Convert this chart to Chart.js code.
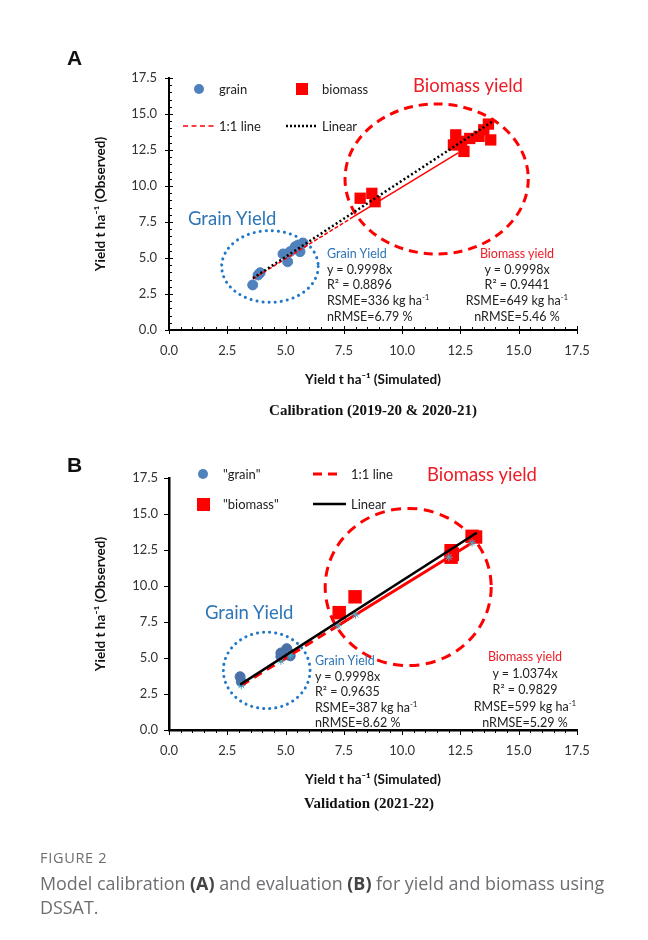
<!DOCTYPE html>
<html>
<head>
<meta charset="utf-8">
<script src="https://cdn.jsdelivr.net/npm/chart.js@4.4.0/dist/chart.umd.min.js"></script>
<style>
  html,body{margin:0;padding:0;background:#fff;}
  body{width:648px;height:940px;position:relative;overflow:hidden;font-family:Lato,"Open Sans",sans-serif;}
  canvas{position:absolute;left:0;}
  .t{position:absolute;white-space:nowrap;color:#222;}
  .stats{font-size:12.5px;line-height:15.7px;}
  .stats sup{font-size:8px;vertical-align:5px;line-height:0;}
  .big{font-size:18.5px;line-height:22px;}
  .leg{font-size:13px;line-height:16px;color:#222;}
  .panel{font-family:"Liberation Sans",Arial,sans-serif;font-weight:bold;font-size:21px;line-height:24px;color:#111;}
  .cap{font-family:"Liberation Serif","Times New Roman",serif;font-weight:bold;font-size:15px;line-height:18px;color:#111;text-align:center;width:400px;}
  .sw{position:absolute;}
</style>
</head>
<body>
<canvas id="cA" width="648" height="400" style="top:0"></canvas>
<canvas id="cB" width="648" height="400" style="top:400px"></canvas>

<!-- Panel A overlays -->
<div class="t panel" style="left:67px;top:46px">A</div>
<svg class="sw" style="left:0;top:0" width="648" height="400">
  <circle cx="199" cy="89" r="5" fill="#4f81bd"/>
  <rect x="296" y="83" width="12" height="12" fill="#ff0000"/>
  <line x1="183" y1="126" x2="215" y2="126" stroke="#ff0000" stroke-width="1.5" stroke-dasharray="5,3.5"/>
  <line x1="286" y1="126" x2="318" y2="126" stroke="#000" stroke-width="2.5" stroke-dasharray="2,2"/>
</svg>
<div class="t leg" style="left:219px;top:81px">grain</div>
<div class="t leg" style="left:322px;top:81px">biomass</div>
<div class="t leg" style="left:219px;top:118px">1:1 line</div>
<div class="t leg" style="left:322px;top:118px">Linear</div>
<div class="t big" style="left:413px;top:74px;color:#ee1c25">Biomass yield</div>
<div class="t big" style="left:188px;top:207px;color:#2e75b6">Grain Yield</div>
<div class="t stats" style="left:327px;top:246px">
  <span style="color:#2e75b6">Grain Yield</span><br>y = 0.9998x<br>R² = 0.8896<br>RSME=336 kg ha<sup>-1</sup><br>nRMSE=6.79 %
</div>
<div class="t stats" style="left:437px;top:246px;width:160px;text-align:center">
  <span style="color:#ee1c25">Biomass yield</span><br>y = 0.9998x<br>R² = 0.9441<br>RSME=649 kg ha<sup>-1</sup><br>nRMSE=5.46 %
</div>
<div class="t cap" style="left:173px;top:401px">Calibration (2019-20 &amp; 2020-21)</div>

<!-- Panel B overlays -->
<div class="t panel" style="left:67px;top:453px">B</div>
<svg class="sw" style="left:0;top:0" width="648" height="940">
  <circle cx="203" cy="474" r="5" fill="#4f81bd"/>
  <rect x="197" y="498" width="13" height="13" fill="#ff0000"/>
  <line x1="313" y1="474" x2="343" y2="474" stroke="#ff0000" stroke-width="3" stroke-dasharray="9,6"/>
  <line x1="313" y1="504" x2="346" y2="504" stroke="#000" stroke-width="2.5"/>
</svg>
<div class="t leg" style="left:223px;top:466px">"grain"</div>
<div class="t leg" style="left:223px;top:496px">"biomass"</div>
<div class="t leg" style="left:351px;top:466px">1:1 line</div>
<div class="t leg" style="left:351px;top:496px">Linear</div>
<div class="t big" style="left:427px;top:463px;color:#ee1c25">Biomass yield</div>
<div class="t big" style="left:205px;top:601px;color:#2e75b6">Grain Yield</div>
<div class="t stats" style="left:315px;top:653px;line-height:15.6px">
  <span style="color:#2e75b6">Grain Yield</span><br>y = 0.9998x<br>R² = 0.9635<br>RSME=387 kg ha<sup>-1</sup><br>nRMSE=8.62 %
</div>
<div class="t stats" style="left:445px;top:649px;width:160px;text-align:center;line-height:16.5px">
  <span style="color:#ee1c25">Biomass yield</span><br>y = 1.0374x<br>R² = 0.9829<br>RMSE=599 kg ha<sup>-1</sup><br>nRMSE=5.29 %
</div>
<div class="t cap" style="left:169px;top:794px">Validation (2021-22)</div>

<!-- Figure caption -->
<div class="t" style="left:40px;top:848px;font-family:'Open Sans',sans-serif;font-size:14.5px;line-height:20px;letter-spacing:0.7px;color:#6d6e71">FIGURE 2</div>
<div class="t" style="left:40px;top:871px;font-family:'Open Sans',sans-serif;font-size:17.9px;line-height:24px;color:#6d6e71;white-space:normal;width:580px">Model calibration <b style="color:#444">(A)</b> and evaluation <b style="color:#444">(B)</b> for yield and biomass using DSSAT.</div>

<script>
// ---------- DATA ----------
const tickValues = [0, 2.5, 5, 7.5, 10, 12.5, 15, 17.5];

// Panel A (Calibration 2019-20 & 2020-21): [simulated, observed]
const grainA_sim   = [3.59, 3.82, 3.91, 4.89, 5.09, 5.19, 5.41, 5.54, 5.62, 5.75];
const grainA_obs   = [3.13, 3.82, 3.98, 5.28, 4.74, 5.44, 5.78, 5.90, 5.44, 6.04];
const biomassA_sim = [8.20, 8.70, 8.84, 12.30, 12.55, 12.20, 12.65, 12.90, 13.30, 13.50, 13.70, 13.80];
const biomassA_obs = [9.15, 9.49, 8.91, 13.55, 13.10, 12.85, 12.40, 13.30, 13.45, 13.90, 14.30, 13.20];
const oneToOneA_x  = [3.6, 7.9, 12.4];
const oneToOneA_y  = [3.55, 7.85, 12.3];
const linearA_x    = [3.6, 13.85];
const linearA_y    = [3.6, 14.45];

// Panel B (Validation 2021-22): [simulated, observed]
const grainB_sim   = [3.05, 3.10, 4.80, 4.80, 4.95, 5.05, 5.15, 5.20];
const grainB_obs   = [3.70, 3.35, 5.10, 5.35, 5.20, 5.65, 5.35, 5.15];
const biomassB_sim = [7.30, 7.98, 12.10, 12.10, 12.15, 13.00, 13.15];
const biomassB_obs = [8.15, 9.25, 12.45, 12.00, 12.20, 13.45, 13.40];
const oneToOneB_x  = [3.1, 4.8, 5.2, 7.25, 8.0, 12.0, 13.0, 13.2];
const oneToOneB_y  = [3.1, 4.8, 5.2, 7.25, 8.0, 12.0, 13.0, 13.2];
const linearB_x    = [3.05, 13.2];
const linearB_y    = [3.15, 13.7];

// ---------- helpers ----------
const pts = (xs, ys) => xs.map((v, i) => ({x: v, y: ys[i]}));
const FONT = 'Lato, "Open Sans", sans-serif';

const ellipsePlugin = {
  id: 'ellipses',
  beforeDatasetsDraw(chart, args, opts) {
    const {ctx, scales: {x, y}} = chart;
    (opts.items || []).forEach(e => {
      const cx = x.getPixelForValue(e.cx), cy = y.getPixelForValue(e.cy);
      const rx = Math.abs(x.getPixelForValue(e.cx + e.rx) - cx);
      const ry = Math.abs(y.getPixelForValue(e.cy + e.ry) - cy);
      ctx.save();
      ctx.beginPath();
      ctx.ellipse(cx, cy, rx, ry, 0, 0, Math.PI * 2);
      ctx.strokeStyle = e.color; ctx.lineWidth = e.width;
      ctx.setLineDash(e.dash); ctx.lineCap = e.cap || 'butt';
      ctx.stroke();
      ctx.restore();
    });
  }
};

const tickMarkPlugin = {
  id: 'tickMarks',
  afterDraw(chart, args, opts) {
    const {ctx, scales: {x, y}} = chart;
    const bottom = y.getPixelForValue(0), left = x.getPixelForValue(0);
    ctx.save();
    ctx.strokeStyle = '#000'; ctx.lineWidth = 1;
    ctx.beginPath();
    for (let k = 0; k <= 35; k++) {
      const v = k * 0.5;
      const major = k % 5 === 0;
      const px = Math.round(x.getPixelForValue(v)) + 0.5;
      const py = Math.round(y.getPixelForValue(v)) + 0.5;
      const xs = major ? opts.xMajor : opts.xMinor;
      const ys = major ? opts.yMajor : opts.yMinor;
      if (xs) { ctx.moveTo(px, bottom - xs[0]); ctx.lineTo(px, bottom + xs[1]); }
      if (ys) { ctx.moveTo(left + ys[0], py); ctx.lineTo(left - ys[1], py); }
    }
    ctx.stroke();
    ctx.restore();
  }
};

function makeScales(borderWidth, yPad) {
  const common = {
    type: 'linear', min: 0, max: 17.5,
    grid: {display: false, drawTicks: false},
    border: {display: true, color: '#000', width: borderWidth},
    afterBuildTicks: s => { s.ticks = tickValues.map(v => ({value: v})); },
    ticks: {
      color: '#333', font: {family: FONT, size: 13},
      callback: v => Number(v).toFixed(1), autoSkip: false, maxRotation: 0
    }
  };
  return {
    x: Object.assign({}, common, {
      ticks: Object.assign({}, common.ticks, {padding: 13}),
      title: {display: true, text: 'Yield t ha⁻¹ (Simulated)', color: '#111',
              font: {family: FONT, size: 13.5, weight: 'bold'}, padding: {top: 0, bottom: 12}},
      afterFit: s => { s.height = 70; }
    }),
    y: Object.assign({}, common, {
      ticks: Object.assign({}, common.ticks, {padding: yPad}),
      title: {display: true, text: 'Yield t ha⁻¹ (Observed)', color: '#111',
              font: {family: FONT, size: 13.5, weight: 'bold'}, padding: {top: 93, bottom: 0}},
      afterFit: s => { s.width = 169; }
    })
  };
}

// ---------- Chart A ----------
new Chart(document.getElementById('cA'), {
  type: 'scatter',
  data: {
    datasets: [
      {label: 'Linear', type: 'line', data: pts(linearA_x, linearA_y), order: 1,
       borderColor: '#000', borderWidth: 2.5, borderDash: [2, 2.5], pointRadius: 0, fill: false, showLine: true},
      {label: '1:1 line', type: 'line', data: pts(oneToOneA_x, oneToOneA_y), order: 2,
       borderColor: '#ff0000', borderWidth: 1.5, pointRadius: 0, fill: false, showLine: true,
       segment: {borderDash: c => c.p0DataIndex === 0 ? [4, 2] : []}},
      {label: 'grain', data: pts(grainA_sim, grainA_obs), order: 3,
       backgroundColor: '#4f81bd', borderColor: '#4f81bd', pointRadius: 5, pointStyle: 'circle'},
      {label: 'biomass', data: pts(biomassA_sim, biomassA_obs), order: 4,
       backgroundColor: '#ff0000', borderColor: '#ff0000', borderWidth: 0, pointRadius: 8, pointStyle: 'rect'}
    ]
  },
  options: {
    responsive: false, animation: false, devicePixelRatio: 1,
    layout: {padding: {left: 0, top: 78, right: 71, bottom: 0}},
    scales: makeScales(2, 12),
    plugins: {
      legend: {display: false}, tooltip: {enabled: false},
      ellipses: {items: [
        {cx: 11.48, cy: 10.49, rx: 3.93, ry: 5.21, color: '#ff0000', width: 3, dash: [9, 6]},
        {cx: 4.33, cy: 4.41, rx: 2.07, ry: 2.49, color: '#1f77c9', width: 3, dash: [0.1, 6], cap: 'round'}
      ]},
      tickMarks: {xMajor: [4, 4], xMinor: [3, 0], yMajor: [4, 4], yMinor: [3, 0]}
    }
  },
  plugins: [ellipsePlugin, tickMarkPlugin]
});

// ---------- Chart B ----------
new Chart(document.getElementById('cB'), {
  type: 'scatter',
  data: {
    datasets: [
      {label: 'Linear', type: 'line', data: pts(linearB_x, linearB_y), order: 1,
       borderColor: '#000', borderWidth: 2.5, pointRadius: 0, fill: false, showLine: true},
      {label: '1:1 line', type: 'line', data: pts(oneToOneB_x, oneToOneB_y), order: 2,
       borderColor: '#ff0000', borderWidth: 3, fill: false, showLine: true,
       pointStyle: 'star', pointBorderColor: '#4bacc6', pointBackgroundColor: '#4bacc6', pointBorderWidth: 1,
       pointRadius: c => c.dataIndex < oneToOneB_x.length - 1 ? 4 : 0,
       segment: {borderDash: c => (c.p0DataIndex >= 3 && c.p0DataIndex < 6) ? [] : [9, 6]}},
      {label: '"grain"', data: pts(grainB_sim, grainB_obs), order: 3,
       backgroundColor: '#4a70a8', borderColor: '#4a70a8', pointRadius: 5, pointStyle: 'circle'},
      {label: '"biomass"', data: pts(biomassB_sim, biomassB_obs), order: 4,
       backgroundColor: '#ff0000', borderColor: '#ff0000', borderWidth: 0, pointRadius: 9.5, pointStyle: 'rect'}
    ]
  },
  options: {
    responsive: false, animation: false, devicePixelRatio: 1,
    layout: {padding: {left: 0, top: 78, right: 71, bottom: 0}},
    scales: makeScales(2.5, 11),
    plugins: {
      legend: {display: false}, tooltip: {enabled: false},
      ellipses: {items: [
        {cx: 10.26, cy: 9.93, rx: 3.56, ry: 5.46, color: '#ff0000', width: 3, dash: [10, 6.5]},
        {cx: 4.19, cy: 4.14, rx: 1.86, ry: 2.66, color: '#1f77c9', width: 3, dash: [0.1, 6], cap: 'round'}
      ]},
      tickMarks: {xMajor: [0, 5], xMinor: [0, 3], yMajor: [0, 5], yMinor: null}
    }
  },
  plugins: [ellipsePlugin, tickMarkPlugin]
});
</script>
</body>
</html>
